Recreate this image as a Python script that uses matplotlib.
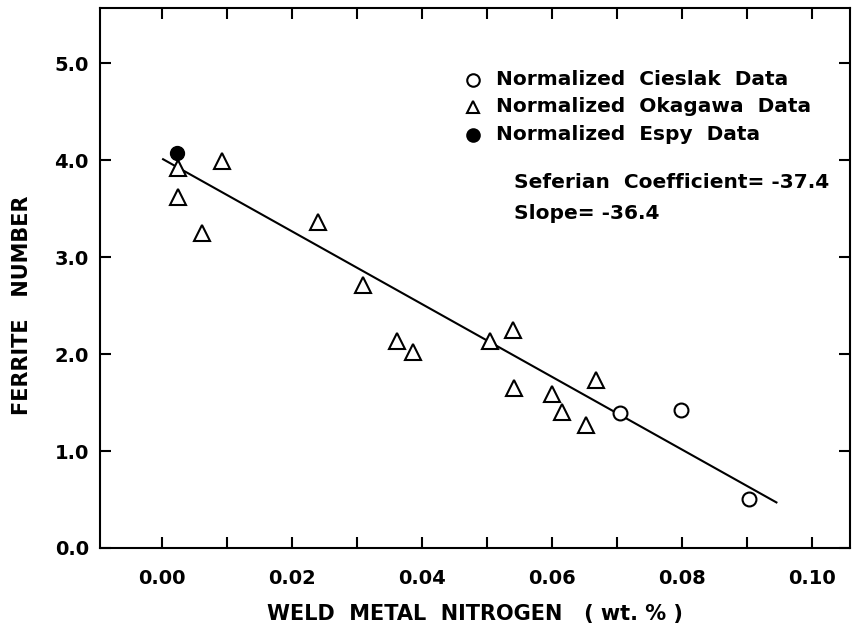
"""
Ferrite number vs weld metal nitrogen, normalized data from three sources.
"""

import matplotlib
matplotlib.use("Agg")
import matplotlib.pyplot as plt


# --- Data ------------------------------------------------------------------

cieslak_n = [0.0705, 0.0798, 0.0903]
cieslak_fn = [1.39, 1.42, 0.51]

okagawa_n = [0.0025, 0.0025, 0.0062, 0.0092, 0.0240, 0.0310, 0.0362, 0.0386,
             0.0505, 0.0540, 0.0542, 0.0600, 0.0615, 0.0652, 0.0668]
okagawa_fn = [3.92, 3.62, 3.25, 3.99, 3.36, 2.71, 2.14, 2.02,
              2.13, 2.25, 1.65, 1.59, 1.40, 1.27, 1.73]

espy_n = [0.0023]
espy_fn = [4.07]

# fitted line, drawn end to end
fit_n = [0.0002, 0.0945]
fit_fn = [4.01, 0.47]

legend_labels = [
    "Normalized  Cieslak  Data",
    "Normalized  Okagawa  Data",
    "Normalized  Espy  Data",
]
annotation_lines = ["Seferian  Coefficient= -37.4", "Slope= -36.4"]

x_ticks = [0.00, 0.02, 0.04, 0.06, 0.08, 0.10]
x_minor = [0.01, 0.03, 0.05, 0.07, 0.09]
y_ticks = [0.0, 1.0, 2.0, 3.0, 4.0, 5.0]


# --- Plot ------------------------------------------------------------------

plt.rcParams["font.family"] = "DejaVu Sans"

fig = plt.figure(figsize=(8.53, 6.33), dpi=100)
ax = fig.add_axes([0.1172, 0.1343, 0.8792, 0.8531])

ax.plot(fit_n, fit_fn, color="black", lw=1.5, zorder=2)
ax.plot(okagawa_n, okagawa_fn, ls="none", marker="^", ms=11, mfc="white",
        mec="black", mew=1.5, zorder=3)
ax.plot(cieslak_n, cieslak_fn, ls="none", marker="o", ms=10, mfc="white",
        mec="black", mew=1.5, zorder=3)
ax.plot(espy_n, espy_fn, ls="none", marker="o", ms=10, mfc="black",
        mec="black", zorder=4)

ax.set_xlim(-0.0095, 0.1058)
ax.set_ylim(0.0, 5.57)

ax.set_xticks(x_ticks)
ax.set_xticklabels([f"{v:.2f}" for v in x_ticks])
ax.set_xticks(x_minor, minor=True)
ax.set_yticks(y_ticks)
ax.set_yticklabels([f"{v:.1f}" for v in y_ticks])

ax.tick_params(which="both", direction="in", top=True, right=True,
               width=1.5, length=8, labelsize=14, pad=8)
ax.tick_params(axis="x", pad=15)
for lbl in ax.get_xticklabels() + ax.get_yticklabels():
    lbl.set_fontweight("bold")

for side in ax.spines.values():
    side.set_linewidth(1.5)

ax.set_xlabel("WELD  METAL  NITROGEN   ( wt. % )", fontsize=15,
              fontweight="bold", labelpad=12)
ax.set_ylabel("FERRITE   NUMBER", fontsize=15, fontweight="bold")
# the original label sits a little below the middle of the axis
ax.yaxis.set_label_coords(-0.09, 0.45)

# hand-placed legend, as in the original lettering
markers = [("o", "white"), ("^", "white"), ("o", "black")]
legend_y = [0.867, 0.817, 0.765]
for label, (mk, fc), y in zip(legend_labels, markers, legend_y):
    ax.plot([0.497], [y], transform=ax.transAxes, marker=mk, ms=9,
            mfc=fc, mec="black", mew=1.5, ls="none", clip_on=False)
    ax.text(0.528, y, label, transform=ax.transAxes, fontsize=14.5,
            fontweight="bold", va="center", ha="left")

for line, y in zip(annotation_lines, [0.676, 0.620]):
    ax.text(0.552, y, line, transform=ax.transAxes,
            fontsize=14.5, fontweight="bold", va="center", ha="left")

fig.savefig("out.png", dpi=100)
